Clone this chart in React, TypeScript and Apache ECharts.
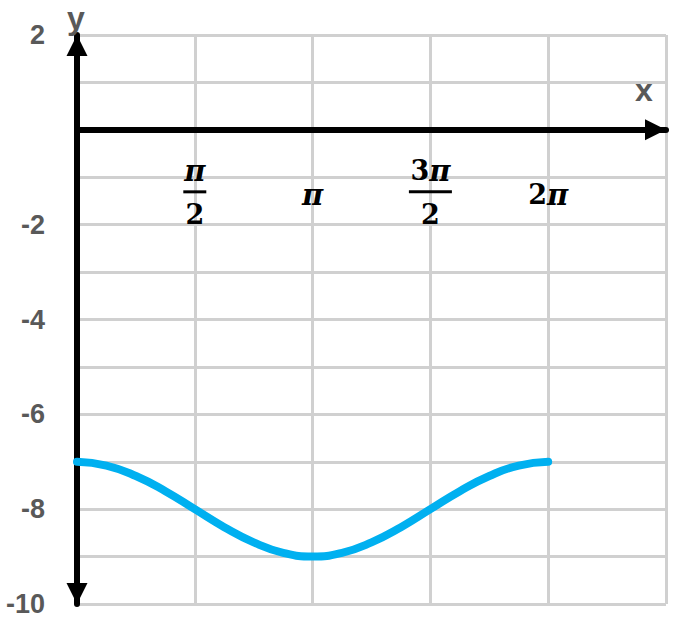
import React, { useEffect, useRef } from 'react';
import * as echarts from 'echarts';

const PI = Math.PI;

// x tick labels at multiples of π/2 (0 … 5π/2)
const xTickLabels = ['', '{n|π}\n{b|}\n{d|2}', '{s|π}', '{nd|3}{n|π}\n{w|}\n{d|2}', '{sd|2}{s|π}', ''];
const yMin = -10;
const yMax = 2;
const yLabelValues = [2, -2, -4, -6, -8, -10];

// curve samples (x in units of π)
const curveXInPi = [0, 0.125, 0.25, 0.375, 0.5, 0.625, 0.75, 0.875, 1, 1.125, 1.25, 1.375, 1.5, 1.625, 1.75, 1.875, 2];
const curveY = [-7, -7.08, -7.3, -7.62, -8, -8.38, -8.7, -8.92, -9, -8.92, -8.7, -8.38, -8, -7.62, -7.3, -7.08, -7];

const GRAY = '#595959';
const GRID = '#d0d0d0';

const GRID_TOP = 35;
const GRID_BOTTOM = 16;
const CHART_H = 620;

export default function App() {
  const ref = useRef<HTMLDivElement>(null);
  useEffect(() => {
    if (!ref.current) return;
    const chart = echarts.init(ref.current, null, { renderer: 'svg' });
    const serif = "'DejaVu Serif', 'Liberation Serif', serif";
    const plotH = CHART_H - GRID_TOP - GRID_BOTTOM;
    // distance from grid bottom to the y = 0 line
    const zeroOffset = (plotH * (0 - yMin)) / (yMax - yMin);
    const piStyle = { fontFamily: serif, fontWeight: 'bold', fontStyle: 'italic', fontSize: 29, color: '#000' };
    const digitStyle = { fontFamily: serif, fontWeight: 'bold', fontSize: 27, color: '#000' };
    const option = {
      animation: false,
      backgroundColor: '#ffffff',
      grid: { left: 77, right: 11, top: GRID_TOP, bottom: GRID_BOTTOM, containLabel: false, outerBoundsMode: 'none' },
      xAxis: [
        {
          type: 'value',
          min: 0,
          max: 2.5 * PI,
          interval: PI / 2,
          axisLine: { show: false },
          axisTick: { show: false },
          axisLabel: { show: false },
          splitLine: { show: true, lineStyle: { color: GRID, width: 3 } },
        },
        {
          type: 'value',
          position: 'bottom',
          offset: -zeroOffset,
          min: 0,
          max: 2.5 * PI,
          interval: PI / 2,
          axisLine: {
            show: true,
            onZero: false,
            symbol: ['none', 'triangle'],
            symbolSize: [21, 21],
            symbolOffset: [0, -10.5],
            lineStyle: { color: '#000', width: 6 },
          },
          axisTick: { show: false },
          splitLine: { show: false },
          axisLabel: {
            show: true,
            margin: 25,
            showMinLabel: true,
            showMaxLabel: true,
            formatter: (v: number) => xTickLabels[Math.round(v / (PI / 2))] ?? '',
            rich: {
              n: { ...piStyle, lineHeight: 32, align: 'center' },
              nd: { ...digitStyle, lineHeight: 32, align: 'center' },
              d: { ...digitStyle, lineHeight: 36, align: 'center' },
              b: { width: 23, height: 3, backgroundColor: '#000', lineHeight: 10, align: 'center' },
              w: { width: 43, height: 3, backgroundColor: '#000', lineHeight: 10, align: 'center' },
              s: { ...piStyle, lineHeight: 80, align: 'center' },
              sd: { ...digitStyle, lineHeight: 80, align: 'center' },
            },
          },
        },
      ],
      yAxis: {
        type: 'value',
        min: yMin,
        max: yMax,
        interval: 1,
        axisLine: {
          show: true,
          onZero: false,
          symbol: ['triangle', 'triangle'],
          symbolSize: [21, 21],
          symbolOffset: [10.5, -10.5],
          lineStyle: { color: '#000', width: 6 },
        },
        axisTick: { show: false },
        splitLine: { show: true, lineStyle: { color: GRID, width: 3 } },
        axisLabel: {
          margin: 32,
          color: GRAY,
          fontWeight: 'bold',
          fontSize: 27,
          fontFamily: "'Liberation Sans', Arial, sans-serif",
          formatter: (v: number) => (yLabelValues.includes(v) ? String(v) : ''),
        },
      },
      graphic: [
        {
          type: 'text',
          left: 67,
          top: 2,
          style: { text: 'y', fill: GRAY, font: "bold 32px 'Liberation Sans', Arial, sans-serif" },
          z: 10,
        },
        {
          type: 'text',
          left: 635,
          top: 74,
          style: { text: 'x', fill: GRAY, font: "bold 32px 'Liberation Sans', Arial, sans-serif" },
          z: 10,
        },
      ],
      series: [
        {
          type: 'line',
          xAxisIndex: 0,
          data: curveXInPi.map((x, i) => [x * PI, curveY[i]]),
          smooth: true,
          showSymbol: false,
          lineStyle: { color: '#00b0f0', width: 8, cap: 'round' },
          z: 3,
        },
      ],
    };
    chart.setOption(option as any);
    return () => chart.dispose();
  }, []);
  return <div ref={ref} style={{ position: 'fixed', left: 0, top: 0, width: 677, height: 620 }} />;
}
